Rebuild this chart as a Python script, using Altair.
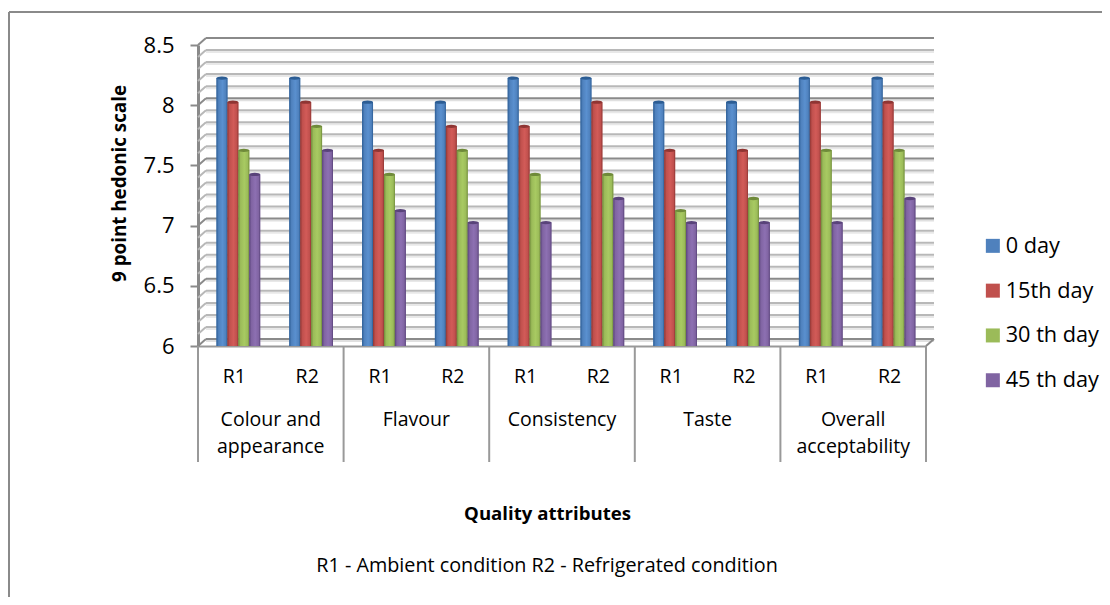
import altair as alt
import pandas as pd

groups = ["Colour and appearance", "Flavour", "Consistency", "Taste", "Overall acceptability"]
group_lines = ["Colour and\nappearance", "Flavour", "Consistency", "Taste", "Overall\nacceptability"]
conditions = ["R1", "R2"]
series = ["0 day", "15th day", "30 th day", "45 th day"]
day0 = [8.2, 8.2, 8.0, 8.0, 8.2, 8.2, 8.0, 8.0, 8.2, 8.2]
day15 = [8.0, 8.0, 7.6, 7.8, 7.8, 8.0, 7.6, 7.6, 8.0, 8.0]
day30 = [7.6, 7.8, 7.4, 7.6, 7.4, 7.4, 7.1, 7.2, 7.6, 7.6]
day45 = [7.4, 7.6, 7.1, 7.0, 7.0, 7.2, 7.0, 7.0, 7.0, 7.2]
colors = ["#4f81bd", "#c0504d", "#9bbb59", "#8064a2"]
darks = ["#2c5d94", "#8f3533", "#6f8a3a", "#59437a"]
lights = ["#5a90cf", "#d25b58", "#a8ca62", "#8d70b2"]
majors = [6.0, 6.5, 7.0, 7.5, 8.0, 8.5]
minors = [6.1, 6.2, 6.3, 6.4, 6.6, 6.7, 6.8, 6.9, 7.1, 7.2, 7.3, 7.4, 7.6, 7.7, 7.8, 7.9,
          8.1, 8.2, 8.3, 8.4]

FONT = "Open Sans"
W, H = 728, 301
DX, DY = 8, 7

keys = [f"{g}|{c}" for g in groups for c in conditions]
rows = []
for s, vals in zip(series, [day0, day15, day30, day45]):
    for k, v in zip(keys, vals):
        rows.append({"key": k, "series": s, "value": v})
df = pd.DataFrame(rows)

x_scale = alt.Scale(domain=keys, paddingInner=0, paddingOuter=0)
y_scale = alt.Scale(domain=[6, 8.5], nice=False, zero=False)
off_scale = alt.Scale(domain=series, paddingInner=0, paddingOuter=0, range=[18.5, 62.2])

axis_y = alt.Axis(values=majors, format="~g", title="9 point hedonic scale", titleFont=FONT, titleFontSize=18.8,
                  titleFontWeight="bold", titleColor="#000000", titleX=-69, titleY=138, labelFont=FONT, labelFontSize=22,
                  labelColor="#000000", labelPadding=16, tickSize=8, tickColor="#8a8a8a", tickWidth=2,
                  domainColor="#8a8a8a", domainWidth=3, grid=False)
axis_x = alt.Axis(title="Quality attributes", titleFont=FONT, titleFontSize=18.6, titleFontWeight="bold", titleColor="#000000",
                  titleX=349, titleY=158, labels=False, ticks=False, domainColor="#999999",
                  domainWidth=2, grid=False)


def xpos(band=None):
    if band is None:
        return alt.X("key:N", scale=x_scale, sort=keys, axis=axis_x)
    return alt.X("key:N", scale=x_scale, sort=keys, axis=axis_x, bandPosition=band)


def ypos(field="value"):
    return alt.Y(f"{field}:Q", scale=y_scale, axis=axis_y)


XO = alt.XOffset("series:N", scale=off_scale, sort=series)
BASE = alt.Y2Datum(6)


def grid(vals, color, width, off):
    return alt.Chart(pd.DataFrame({"v": vals})).mark_rule(color=color, strokeWidth=width, yOffset=off).encode(
        y=ypos("v"), x=alt.value(DX), x2=alt.value(W + DX))


def slant(vals, color, width, x0=0):
    return alt.Chart(pd.DataFrame({"v": vals})).transform_calculate(vb=f"datum.v + {DY / H * 2.5}").mark_rule(
        color=color, strokeWidth=width).encode(
        y=ypos("v"), y2=alt.Y2("vb:Q"), x=alt.value(x0), x2=alt.value(x0 + DX))


layers = [
    grid(minors, "#e8e8e8", 2, -5),
    grid(majors[:-1], "#e0e0e0", 2, -5),
    grid(minors, "#b8b8b8", 2, -DY),
    grid(majors, "#8a8a8a", 2, -DY),
    slant(minors, "#b8b8b8", 2),
    slant(majors, "#8a8a8a", 2),
    slant([6.0], "#8a8a8a", 2, W),
]

flat = alt.Chart(df).mark_bar(yOffset=-3).encode(
    x=xpos(),
    xOffset=XO,
    y=ypos(),
    y2=BASE,
    color=alt.Color("series:N", scale=alt.Scale(domain=series, range=colors), sort=series,
                    legend=alt.Legend(title=None, orient="none", legendX=784, legendY=190, symbolType="square",
                                      symbolSize=196, symbolStrokeWidth=0, labelFont=FONT, labelFontSize=21.7,
                                      labelColor="#000000", rowPadding=21.8, labelOffset=2)),
)
layers.append(flat)

for s, c, d, l in zip(series, colors, darks, lights):
    sub = df[df.series == s]
    grad = alt.LinearGradient(gradient="linear", x1=0, x2=1, y1=0, y2=0, stops=[
        alt.GradientStop(offset=0, color=d), alt.GradientStop(offset=0.2, color=c),
        alt.GradientStop(offset=0.55, color=l), alt.GradientStop(offset=0.85, color=c),
        alt.GradientStop(offset=1, color=d)])
    layers.append(alt.Chart(sub).mark_bar(yOffset=-3, fill=grad).encode(x=xpos(), xOffset=XO, y=ypos(), y2=BASE))
    layers.append(alt.Chart(sub).mark_point(shape="M-1,0A1,0.3 0 1 1 1,0A1,0.3 0 1 1 -1,0Z", size=121, filled=True,
                                            color=d, opacity=1, yOffset=-3).encode(
        x=xpos(0.5), xOffset=XO, y=ypos()))

layers.append(alt.Chart(pd.DataFrame({"key": keys, "label": [k.split("|")[1] for k in keys]})).mark_text(
    font=FONT, fontSize=19.5, color="#000000", align="center", baseline="middle").encode(
    x=xpos(0.5), y=alt.value(H + 31), text="label:N"))

r1_keys = keys[0::2]
layers.append(alt.Chart(pd.DataFrame({"key": r1_keys})).mark_rule(color="#999999", strokeWidth=2).encode(
    x=xpos(0), y=alt.value(H), y2=alt.value(H + 116)))
layers.append(alt.Chart(pd.DataFrame({"key": keys[-1:]})).mark_rule(color="#999999", strokeWidth=2).encode(
    x=xpos(1), y=alt.value(H), y2=alt.value(H + 116)))

layers.append(alt.Chart(pd.DataFrame({"key": keys[1::2], "label": group_lines})).mark_text(
    font=FONT, fontSize=19.5, color="#000000", align="center", baseline="top", lineBreak="\n", lineHeight=27).encode(
    x=xpos(0), y=alt.value(H + 65), text="label:N"))

layers.append(alt.Chart(pd.DataFrame({"t": ["R1 - Ambient condition R2 - Refrigerated condition"]})).mark_text(
    font=FONT, fontSize=19.8, color="#000000", align="center", baseline="middle").encode(
    x=alt.value(349), y=alt.value(521), text="t:N"))

layers.append(alt.Chart(pd.DataFrame({"f": ["top"]})).mark_rule(color="#8a8a8a", strokeWidth=2).encode(
    x=alt.value(-189), x2=alt.value(912), y=alt.value(-33)))
layers.append(alt.Chart(pd.DataFrame({"f": ["left"]})).mark_rule(color="#8a8a8a", strokeWidth=2).encode(
    x=alt.value(-189), y=alt.value(-33), y2=alt.value(552)))

chart = alt.layer(*layers).resolve_scale(color="shared").properties(
    width=W, height=H, autosize=alt.AutoSizeParams(type="none"),
    padding={"left": 190, "top": 37, "right": 176, "bottom": 251},
    background="#ffffff",
).configure_view(stroke=None)

chart.save("out.html", embed_options={"renderer": "svg", "actions": False})
